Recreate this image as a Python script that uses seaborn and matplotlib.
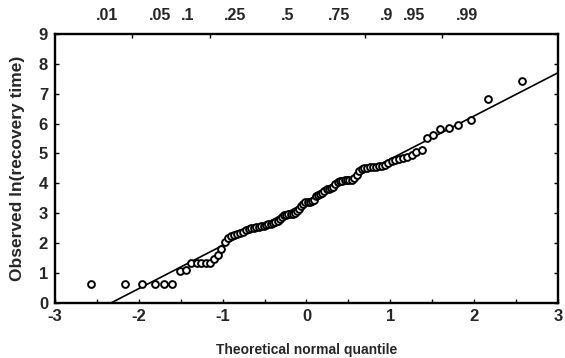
import numpy as np
import pandas as pd
import matplotlib
matplotlib.use("Agg")
import matplotlib.pyplot as plt
import seaborn as sns
from statistics import NormalDist

# Sorted observed values of ln(recovery time), one per subject
observed = [
    0.62, 0.62, 0.62, 0.62, 0.62, 0.62, 1.06, 1.08, 1.32, 1.32,
    1.32, 1.32, 1.32, 1.45, 1.58, 1.80, 2.02, 2.15, 2.22, 2.27,
    2.30, 2.33, 2.38, 2.42, 2.45, 2.49, 2.51, 2.53, 2.54, 2.56,
    2.58, 2.60, 2.62, 2.64, 2.66, 2.70, 2.73, 2.80, 2.88, 2.92,
    2.94, 2.96, 2.97, 2.98, 3.00, 3.06, 3.14, 3.22, 3.30, 3.36,
    3.37, 3.38, 3.40, 3.45, 3.56, 3.62, 3.65, 3.68, 3.73, 3.80,
    3.82, 3.83, 3.86, 3.98, 4.05, 4.07, 4.08, 4.09, 4.10, 4.11,
    4.12, 4.18, 4.28, 4.40, 4.48, 4.51, 4.52, 4.53, 4.54, 4.55,
    4.56, 4.57, 4.60, 4.68, 4.73, 4.77, 4.80, 4.84, 4.88, 4.95,
    5.05, 5.12, 5.53, 5.62, 5.80, 5.84, 5.96, 6.12, 6.82, 7.44,
]

# Reference line of the normal model
fit_intercept = 3.36
fit_slope = 1.447

x_ticks = [-3, -2, -1, 0, 1, 2, 3]
y_ticks = [0, 1, 2, 3, 4, 5, 6, 7, 8, 9]
prob_ticks = [0.01, 0.05, 0.1, 0.25, 0.5, 0.75, 0.9, 0.95, 0.99]
prob_labels = [".01", ".05", ".1", ".25", ".5", ".75", ".9", ".95", ".99"]

# Theoretical normal quantiles from the ranks (Hazen plotting positions)
nd = NormalDist()
n = len(observed)
theoretical = [nd.inv_cdf((i + 0.5) / n) for i in range(n)]
df = pd.DataFrame({"theoretical": theoretical, "observed": observed})

fit_x = np.array([x_ticks[0], x_ticks[-1]], dtype=float)
fit_df = pd.DataFrame({"x": fit_x, "y": fit_intercept + fit_slope * fit_x})

sns.set_style("ticks")
plt.rcParams["font.family"] = ["Liberation Sans", "DejaVu Sans"]
plt.rcParams["font.weight"] = "bold"
plt.rcParams["axes.labelweight"] = "bold"

fig = plt.figure(figsize=(5.65, 3.58), dpi=100)
ax = fig.add_axes([0.0973, 0.155, 0.8903, 0.750])

sns.lineplot(data=fit_df, x="x", y="y", ax=ax, color="black",
             linewidth=1.2, zorder=2)
sns.scatterplot(data=df, x="theoretical", y="observed", ax=ax,
                marker="o", s=24, color="white", edgecolor="black",
                linewidth=1.4, zorder=3)

ax.set_xlim(x_ticks[0], x_ticks[-1])
ax.set_ylim(y_ticks[0], y_ticks[-1])
ax.set_xticks(x_ticks)
ax.set_yticks(y_ticks)
ax.set_xticks(np.arange(-2.5, 3.0, 1.0), minor=True)
ax.set_xticklabels([str(v) for v in x_ticks])
ax.set_yticklabels([str(v) for v in y_ticks])
ax.tick_params(axis="both", which="both", direction="in", length=3,
               width=1.0, color="black", labelsize=12, pad=5)
ax.tick_params(axis="y", which="both", right=True)
ax.tick_params(axis="x", which="both", top=False)
for spine in ax.spines.values():
    spine.set_visible(True)
    spine.set_linewidth(1.7)
    spine.set_color("black")

ax.set_xlabel("Theoretical normal quantile", fontsize=10,
              fontweight="bold", labelpad=13)
ax.set_ylabel("Observed ln(recovery time)", fontsize=12.5,
              fontweight="bold", labelpad=10)

# Probability scale along the top
top = ax.twiny()
top.set_xlim(-3.0, 3.5)
top.set_xticks([nd.inv_cdf(p) for p in prob_ticks])
top.set_xticklabels(prob_labels)
top.set_xticks([-2, -1, 0, 1, 2], minor=True)
top.tick_params(axis="x", which="major", length=0, labelsize=11.5, pad=8)
top.tick_params(axis="x", which="minor", direction="in", length=3,
                width=1.0, color="black")
for spine in top.spines.values():
    spine.set_visible(False)

fig.savefig("out.png", dpi=100, facecolor="white")
